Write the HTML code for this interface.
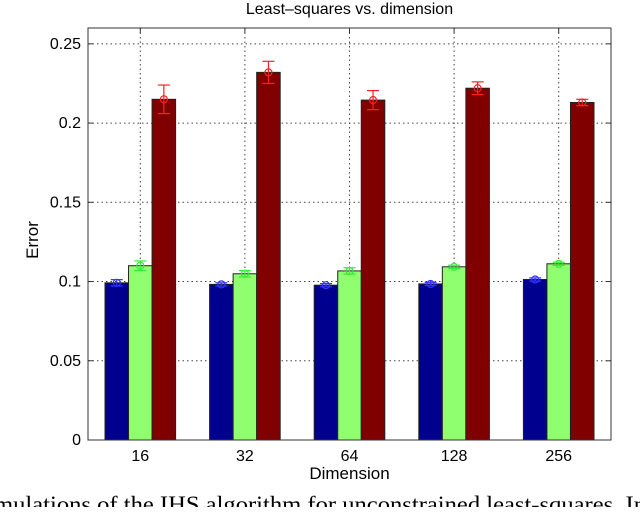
<!DOCTYPE html>
<html><head><meta charset="utf-8"><style>
body{margin:0;background:#fff;width:640px;height:507px;overflow:hidden}
svg text{font-family:"Liberation Sans",sans-serif}
</style></head><body>
<svg width="640" height="507">
<g id="g"></g>
</svg>
<script>
const categories=["16","32","64","128","256"];
const blueVals=[0.0992,0.0982,0.0977,0.0985,0.1013];
const blueErr=[0.002,0.001,0.001,0.001,0.001];
const greenVals=[0.1100,0.1049,0.1067,0.1093,0.1112];
const greenErr=[0.003,0.002,0.002,0.001,0.001];
const redVals=[0.2150,0.2320,0.2145,0.2220,0.2130];
const redErr=[0.009,0.007,0.006,0.004,0.002];
const yTicks=[0,0.05,0.1,0.15,0.2,0.25];
const yTickLabels=["0","0.05","0.1","0.15","0.2","0.25"];

const L=88,R=611,T=28,B=440;
const X=i=>L+(i+0.5)*(R-L)/5;
const Y=v=>B-v*(B-T)/0.26;
const NS="http://www.w3.org/2000/svg";
const g=document.getElementById('g');
function mk(t,a,p){const e=document.createElementNS(NS,t);for(const k in a)e.setAttribute(k,a[k]);(p||g).appendChild(e);return e;}

yTicks.forEach((v,i)=>{
 if(i>0){const l=mk('line',{x1:L,x2:R,y1:Y(v),y2:Y(v),stroke:'#444','stroke-dasharray':'1.5,3','stroke-width':1});
 
 }
 const tk=mk('line',{x1:L,x2:L+5,y1:Y(v),y2:Y(v),stroke:'#333'});
 
 
 const tk2=mk('line',{x1:R-5,x2:R,y1:Y(v),y2:Y(v),stroke:'#333'});
 
 
 const t=mk('text',{x:L-7,y:Y(v)+5,'text-anchor':'end','font-size':16});
 t.textContent=yTickLabels[i];
 
 
});
categories.forEach((c,i)=>{
 const l=mk('line',{x1:X(i),x2:X(i),y1:T,y2:B,stroke:'#444','stroke-dasharray':'1.5,3'});
 
 
 const tk=mk('line',{x1:X(i),x2:X(i),y1:T,y2:T+5,stroke:'#333'});
 
 
 const t=mk('text',{x:X(i),y:B+21,'text-anchor':'middle','font-size':16});
 t.textContent=c;
 
 
});
const bw=(R-L)/5*0.225;
const series=[[blueVals,blueErr,'#00008f','#3333ff',-1,'bar-blue'],[greenVals,greenErr,'#8fff70','#33ee33',0,'bar-green'],[redVals,redErr,'#800000','#ff2020',1,'bar-red']];
series.forEach(([vals,errs,fill,ec,off,name])=>{
 vals.forEach((v,i)=>{
  const cx=X(i)+off*bw;
  const r=mk('rect',{x:cx-bw/2,y:Y(v),width:bw,height:B-Y(v),fill:fill,stroke:'#222','stroke-width':1});
  
  
  const eg=mk('g',{stroke:ec,fill:'none','stroke-width':1.2});
  
  
  const y1=Y(v+errs[i]),y2=Y(v-errs[i]);
  mk('line',{x1:cx,x2:cx,y1:y1,y2:y2},eg);
  mk('line',{x1:cx-6,x2:cx+6,y1:y1,y2:y1},eg);
  mk('line',{x1:cx-6,x2:cx+6,y1:y2,y2:y2},eg);
  mk('circle',{cx:cx,cy:Y(v),r:3.5},eg);
 });
});
const fr=mk('rect',{x:L,y:T,width:R-L,height:B-T,fill:'none',stroke:'#333','stroke-width':1});


const ti=mk('text',{x:(L+R)/2,y:14,'text-anchor':'middle','font-size':16});
ti.textContent='Least\u2013squares vs. dimension';


const xl=mk('text',{x:(L+R)/2,y:479,'text-anchor':'middle','font-size':17});
xl.textContent='Dimension';


const yl=mk('text',{x:0,y:0,'text-anchor':'middle','font-size':17,transform:'translate(38,240) rotate(-90)'});
yl.textContent='Error';


const cap=mk('text',{x:-6,y:512,'font-size':23,textLength:652,lengthAdjust:'spacingAndGlyphs',style:'font-family:"Liberation Serif",serif'});
cap.textContent='mulations of the IHS algorithm for unconstrained least-squares.  In';


</script>
</body></html>
